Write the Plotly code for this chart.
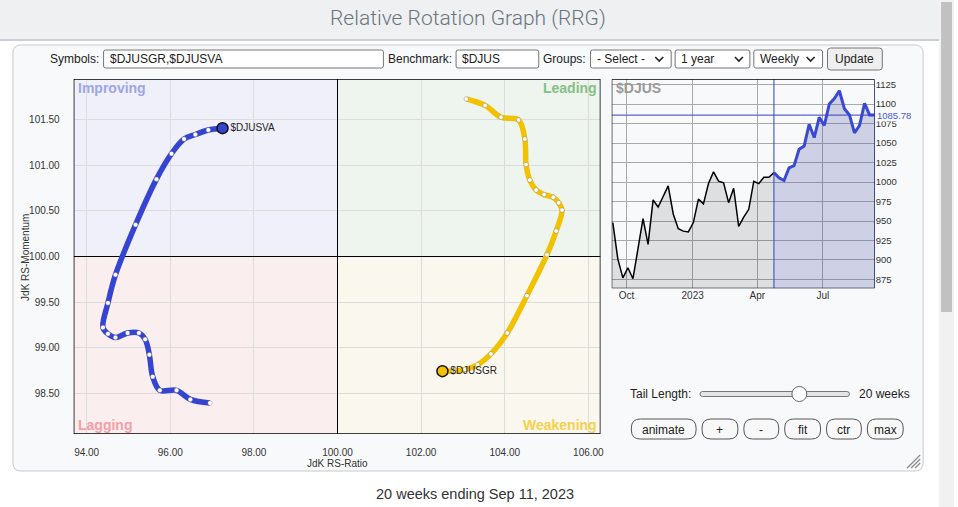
import plotly.graph_objects as go
import pandas as pd

W, H = 958, 507

# ---------------- RRG data ----------------
va_ratio = [96.95, 96.48, 96.15, 95.75, 95.58, 95.50, 95.40, 95.25, 94.98, 94.69, 94.51,
            94.39, 94.51, 94.69, 95.17, 95.67, 96.03, 96.33, 96.60, 96.91, 97.25]
va_mom = [98.39, 98.43, 98.53, 98.53, 98.68, 98.92, 99.09, 99.16, 99.16, 99.11, 99.15,
          99.22, 99.49, 99.80, 100.35, 100.85, 101.13, 101.29, 101.34, 101.39, 101.41]
gr_ratio = [103.08, 103.53, 103.91, 104.33, 104.48, 104.51, 104.60, 104.75, 104.94, 105.16,
            105.29, 105.37, 105.23, 105.01, 104.53, 104.06, 103.67, 103.35, 103.05, 102.78, 102.51]
gr_mom = [101.73, 101.66, 101.53, 101.50, 101.29, 101.01, 100.84, 100.73, 100.68, 100.65,
          100.59, 100.51, 100.28, 100.02, 99.57, 99.16, 98.93, 98.81, 98.76, 98.74, 98.74]
va_name = "$DJUSVA"
gr_name = "$DJUSGR"
rrg_xticks = [94, 96, 98, 100, 102, 104, 106]
rrg_yticks = [98.5, 99.0, 99.5, 100.0, 100.5, 101.0, 101.5]

# ---------------- Benchmark data ----------------
bench_name = "$DJUS"
bench_start = "2022-09-12"
bench_vals = [947.8, 901, 877, 890, 876, 914, 953, 920, 977, 968, 982, 995, 959, 940, 937,
              936, 948, 978, 972, 998, 1013, 1001, 999, 973.5, 992, 943, 955, 965, 1001, 998,
              1006, 1006, 1012, 1005.5, 1002, 1018, 1021, 1042, 1046, 1074, 1057, 1083, 1072.5,
              1100, 1107, 1117, 1094, 1086, 1063, 1072.5, 1101, 1086, 1085.78]
bench_dates = pd.date_range(bench_start, periods=len(bench_vals), freq="7D")
tail_weeks = 20
tail_start = len(bench_vals) - 1 - tail_weeks
bench_last = bench_vals[-1]
mini_tickvals = ["2022-10-01", "2023-01-01", "2023-04-01", "2023-07-01"]
mini_ticktext = ["Oct", "2023", "Apr", "Jul"]
mini_yticks = [875, 900, 925, 950, 975, 1000, 1025, 1050, 1075, 1100, 1125]

BLUE = "#3545d2"
YEL = "#f2c200"
FONT = "Liberation Sans, Arial, sans-serif"

# ---------------- geometry (pixels) ----------------
RX0, RX1, RY0, RY1 = 74, 603, 79, 434
MX0, MX1, MY0, MY1 = 614.3, 878.3, 79.3, 288.3
xr = [93.69, 106.29]
yr = [98.05, 101.95]
mxr = ["2022-09-10 12:00", "2023-09-11"]
myr = [863.7, 1131.7]


def px(x):
    return x / W


def py(y):
    return 1 - y / H


def rrect(x0, y0, x1, y1, r):
    return (f"M {px(x0 + r)},{py(y0)} L {px(x1 - r)},{py(y0)} "
            f"Q {px(x1)},{py(y0)} {px(x1)},{py(y0 + r)} L {px(x1)},{py(y1 - r)} "
            f"Q {px(x1)},{py(y1)} {px(x1 - r)},{py(y1)} L {px(x0 + r)},{py(y1)} "
            f"Q {px(x0)},{py(y1)} {px(x0)},{py(y1 - r)} L {px(x0)},{py(y0 + r)} "
            f"Q {px(x0)},{py(y0)} {px(x0 + r)},{py(y0)} Z")


shapes = []
annots = []


def pshape(path, fill="rgba(0,0,0,0)", line="rgba(0,0,0,0)", lw=1, layer="below"):
    shapes.append(dict(type="path", xref="paper", yref="paper", path=path,
                       fillcolor=fill, line=dict(color=line, width=lw), layer=layer))


def prect(x0, y0, x1, y1, fill, line="rgba(0,0,0,0)", lw=0, layer="below"):
    shapes.append(dict(type="rect", xref="paper", yref="paper", x0=px(x0), x1=px(x1),
                       y0=py(y1), y1=py(y0), fillcolor=fill,
                       line=dict(color=line, width=lw), layer=layer))


def pline(x0, y0, x1, y1, color, lw=1, layer="above"):
    shapes.append(dict(type="line", xref="paper", yref="paper", x0=px(x0), x1=px(x1),
                       y0=py(y0), y1=py(y1), line=dict(color=color, width=lw), layer=layer))


def ann(x, y, text, size=12, color="#222", xa="left", ya="middle", family=FONT, bold=False,
        angle=0, weight=None, bg=None):
    d = dict(x=px(x), y=py(y), xref="paper", yref="paper", text=text,
             showarrow=False, xanchor=xa, yanchor=ya, textangle=angle,
             font=dict(size=size, color=color, family=family,
                       weight=weight if weight else ("bold" if bold else "normal")))
    if bg:
        d.update(bgcolor=bg, borderpad=0)
    annots.append(d)


def chevron(x, y):
    pshape(f"M {px(x - 4)},{py(y - 2)} L {px(x)},{py(y + 2)} L {px(x + 4)},{py(y - 2)}",
           line="#222", lw=1.6, layer="above")


# ---- page chrome ----
prect(0, 0, 943, 39, "#eef0f2")
prect(0, 39, 943, 41, "#cbd0d6")
pshape(rrect(13, 45, 927, 471, 8), fill="#f8f9fa", line="#c9c9c9", lw=1)
prect(943, 0, 958, 507, "#f1f1f1")
prect(945, 2, 956, 312, "#c1c1c1")
ann(470, 18, "Relative Rotation Graph (RRG)", size=21, color="#6c757d", xa="center",
    family="Roboto, sans-serif", weight=300)

# ---- controls row ----
ann(101, 59, "Symbols:", xa="right")
pshape(rrect(104, 50, 385, 68, 2), fill="white", line="#767676", lw=1, layer="above")
ann(108, 59, "$DJUSGR,$DJUSVA")
ann(456, 59, "Benchmark:", xa="right")
pshape(rrect(458, 50, 541, 68, 2), fill="white", line="#767676", lw=1, layer="above")
ann(462, 59, "$DJUS")
ann(590, 59, "Groups:", xa="right")
for (a, b, label, cx) in [(593, 674, "- Select -", 662), (678, 753, "1 year", 742),
                          (757, 826, "Weekly", 814)]:
    pshape(rrect(a, 50, b, 68, 2), fill="white", line="#767676", lw=1, layer="above")
    ann(a + 4, 59, label)
    chevron(cx, 59)
pshape(rrect(831, 48, 886, 70, 3), fill="#efefef", line="#767676", lw=1, layer="above")
ann(858.5, 59, "Update", xa="center")

# ---- bottom controls ----
ann(631, 394, "Tail Length:")
pshape(rrect(703, 391.5, 853, 396.5, 2.5), fill="#e4e4e4", line="#777", lw=1, layer="above")
shapes.append(dict(type="circle", xref="paper", yref="paper", x0=px(795.2), x1=px(810.2),
                   y0=py(401.5), y1=py(386.5), fillcolor="white",
                   line=dict(color="#666", width=1), layer="above"))
ann(861, 394, "20 weeks")
for (a, b, label) in [(634, 699, "animate"), (705, 741, "+"), (747, 782, "-"),
                      (788, 824, "fit"), (830, 865, "ctr"), (871, 907, "max")]:
    pshape(rrect(a, 419, b, 439, 9), fill="#f8f8f8", line="#555", lw=1, layer="above")
    ann((a + b) / 2, 429.5, label, xa="center")
for d in (0, 4, 8):
    pline(911 + d, 468, 924, 455 + d, "#888", 1.2)

ann(477, 494, "20 weeks ending Sep 11, 2023", size=14.5, color="#333", xa="center")

# ---- RRG quadrants ----
quads = [(xr[0], 100, 100, yr[1], "#eff0f9"), (100, xr[1], 100, yr[1], "#eef4ee"),
         (xr[0], 100, yr[0], 100, "#fbeeee"), (100, xr[1], yr[0], 100, "#f9f7ee")]
for (a, b, c, d, col) in quads:
    shapes.append(dict(type="rect", xref="x", yref="y", x0=a, x1=b, y0=c, y1=d,
                       fillcolor=col, line=dict(width=0), layer="below"))
shapes.append(dict(type="line", xref="x", yref="y", x0=100, x1=100, y0=yr[0], y1=yr[1],
                   line=dict(color="black", width=1), layer="between"))
shapes.append(dict(type="line", xref="x", yref="y", x0=xr[0], x1=xr[1], y0=100, y1=100,
                   line=dict(color="black", width=1), layer="between"))
shapes.append(dict(type="rect", xref="x", yref="y", x0=xr[0], x1=xr[1], y0=yr[0], y1=yr[1],
                   line=dict(color="black", width=1.5), fillcolor="rgba(0,0,0,0)", layer="above"))
ann(76, 88, "Improving", size=14, color="#9fa6e6", bold=True)
ann(602, 88, "Leading", size=14, color="#86c086", bold=True, xa="right")
ann(76, 425, "Lagging", size=14, color="#f2a0a8", bold=True)
ann(602, 425, "Weakening", size=14, color="#f6d050", bold=True, xa="right")
ann(339, 463, "JdK RS-Ratio", size=10, color="#333", xa="center")
ann(25, 257, "JdK RS-Momentum", size=10, color="#333", xa="center", angle=-90)

# ---- mini chart decorations ----
ann(617, 88, bench_name, size=14, color="#9a9a9a", bold=True)
ann(880, 115, f"{bench_last:.2f}", size=9.5, color="#4a56d0", bg="#f8f9fa")
shapes.append(dict(type="line", xref="x2", yref="y2", x0=bench_dates[tail_start],
                   x1=bench_dates[tail_start], y0=myr[0], y1=myr[1],
                   line=dict(color="#3340c0", width=1), layer="above"))
shapes.append(dict(type="line", xref="x2", yref="y2", x0=mxr[0], x1=mxr[1],
                   y0=bench_last, y1=bench_last, line=dict(color="#3340c0", width=1), layer="above"))
shapes.append(dict(type="rect", xref="x2", yref="y2", x0=mxr[0], x1=mxr[1], y0=myr[0], y1=myr[1],
                   line=dict(color="black", width=1.2), fillcolor="rgba(0,0,0,0)", layer="above"))
shapes.append(dict(type="line", xref="x2", yref="y2", x0=mxr[1], x1=mxr[1], y0=myr[0], y1=myr[1],
                   line=dict(color="#3340c0", width=1.2), layer="above"))

fig = go.Figure()

# ---- RRG traces ----
for rx, ry, col, name in [(gr_ratio, gr_mom, YEL, gr_name), (va_ratio, va_mom, BLUE, va_name)]:
    fig.add_trace(go.Scatter(x=rx, y=ry, mode="lines", xaxis="x", yaxis="y",
                             line=dict(color=col, width=5.5, shape="spline", smoothing=1.0),
                             hoverinfo="skip", showlegend=False))
    fig.add_trace(go.Scatter(x=rx[:-1], y=ry[:-1], mode="markers", xaxis="x", yaxis="y",
                             marker=dict(color="white", size=4.5,
                                         line=dict(width=0.6, color="rgba(110,110,110,0.6)")),
                             hoverinfo="skip", showlegend=False))
    fig.add_trace(go.Scatter(x=[rx[-1]], y=[ry[-1]], mode="markers+text", xaxis="x", yaxis="y",
                             marker=dict(color=col, size=11, line=dict(color="#111", width=1.5)),
                             text=[name], textposition="middle right",
                             textfont=dict(size=10, color="#222", family=FONT),
                             hoverinfo="skip", showlegend=False))

# ---- benchmark traces ----
fig.add_trace(go.Scatter(x=bench_dates[:tail_start + 1], y=bench_vals[:tail_start + 1],
                         mode="lines", xaxis="x2", yaxis="y2", fill="tozeroy",
                         fillcolor="rgba(0,0,0,0.10)", line=dict(color="black", width=1.5),
                         hoverinfo="skip", showlegend=False))
fig.add_trace(go.Scatter(x=bench_dates[tail_start:], y=bench_vals[tail_start:],
                         mode="lines", xaxis="x2", yaxis="y2", fill="tozeroy",
                         fillcolor="rgba(60,70,160,0.22)", line=dict(color="#3a4ad0", width=3),
                         hoverinfo="skip", showlegend=False))

tickfont = dict(size=10, color="#333", family=FONT)
fig.update_layout(
    width=W, height=H, margin=dict(l=0, r=0, t=0, b=0),
    paper_bgcolor="white", plot_bgcolor="#f3f3f3",
    showlegend=False, hovermode=False,
    font=dict(family=FONT),
    shapes=shapes, annotations=annots,
    xaxis=dict(domain=[px(RX0), px(RX1)], range=xr, tickvals=rrg_xticks,
               ticktext=[f"{v:.2f}" for v in rrg_xticks], showgrid=True, gridcolor="#dcdcdc",
               zeroline=False, showline=False, ticks="outside", ticklen=9,
               tickcolor="rgba(0,0,0,0)", tickfont=tickfont, fixedrange=True, anchor="y"),
    yaxis=dict(domain=[py(RY1), py(RY0)], range=yr, tickvals=rrg_yticks,
               ticktext=[f"{v:.2f}" for v in rrg_yticks], showgrid=True, gridcolor="#dcdcdc",
               zeroline=False, showline=False, ticks="outside", ticklen=11,
               tickcolor="rgba(0,0,0,0)", tickfont=tickfont, fixedrange=True, anchor="x"),
    xaxis2=dict(domain=[px(MX0), px(MX1)], range=mxr, type="date", tickvals=mini_tickvals,
                ticktext=mini_ticktext, showgrid=True, gridcolor="#a9a9a9", zeroline=False,
                showline=False, ticks="", tickfont=tickfont, fixedrange=True, anchor="y2"),
    yaxis2=dict(domain=[py(MY1), py(MY0)], range=myr, tickvals=mini_yticks, side="right",
                showgrid=True, gridcolor="#a9a9a9", zeroline=False, showline=False, ticks="",
                tickfont=dict(size=9.5, color="#333", family=FONT), fixedrange=True, anchor="x2"),
)

fig.write_html("out.html", config={"displayModeBar": False, "staticPlot": True},
               post_script="document.body.style.margin='0';document.body.style.overflow='hidden';")
